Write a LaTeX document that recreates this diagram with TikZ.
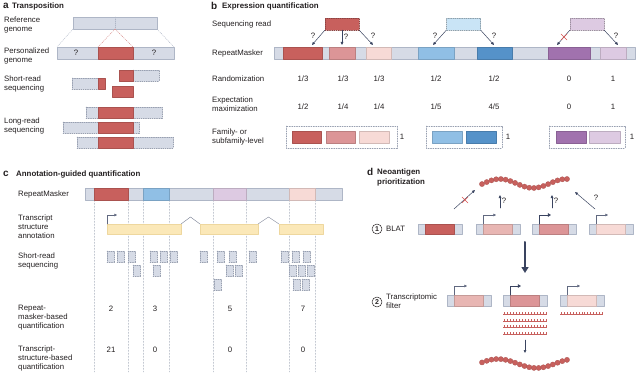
\documentclass[tikz,border=0pt]{standalone}
\usepackage{fontspec}
\setmainfont{Liberation Sans}
\usetikzlibrary{arrows.meta}
\definecolor{txtc}{HTML}{231F20}
\definecolor{gfill}{HTML}{D6DBE6}
\definecolor{gline}{HTML}{AEB6C6}
\definecolor{gdash}{HTML}{979FB0}
\definecolor{rA}{HTML}{C8605D}
\definecolor{rB}{HTML}{DC9597}
\definecolor{rC}{HTML}{F7DAD6}
\definecolor{rD}{HTML}{E8B6B3}
\definecolor{bA}{HTML}{90BFE5}
\definecolor{bB}{HTML}{5592C9}
\definecolor{bR}{HTML}{C9E4F6}
\definecolor{pA}{HTML}{A172AE}
\definecolor{pB}{HTML}{DDCAE2}
\definecolor{yel}{HTML}{FBE8B8}
\definecolor{yelL}{HTML}{EED79E}
\definecolor{arr}{HTML}{3A4460}
\definecolor{dotc}{HTML}{C3C8D1}
\definecolor{xred}{HTML}{D9534F}

\begin{document}
\begin{tikzpicture}[line cap=round,line join=round,>={Triangle[length=3pt,width=2.6pt]},x=1pt,y=-1pt,
	lbl/.style={anchor=west,align=left,inner sep=0pt,text=txtc,font=\fontsize{7.8}{9}\selectfont},
	ttl/.style={anchor=west,align=left,inner sep=0pt,text=txtc,font=\fontsize{7.9}{10}\selectfont\bfseries},
	panlet/.style={anchor=west,inner sep=0pt,text=txtc,font=\fontsize{10}{10}\selectfont\bfseries},
	num/.style={inner sep=0pt,text=txtc,font=\fontsize{7.8}{9}\selectfont},
	gbar/.style={fill=gfill,draw=gline,line width=0.4pt},
	gread/.style={fill=gfill,draw=gdash,line width=0.4pt,dash pattern=on 1.2pt off 1pt},
	seg/.style={fill=#1,draw=#1!85!black,line width=0.3pt},
	rread/.style={fill=#1,draw=#1!70!black,line width=0.4pt,dash pattern=on 1.2pt off 1pt,inner sep=0pt,minimum width=34pt,minimum height=12pt},
	fambox/.style={draw=gdash,line width=0.4pt,dash pattern=on 1.2pt off 1.2pt},
	conn/.style={->,draw=arr,line width=0.5pt},
	tss/.style={-{Triangle[length=2.6pt,width=2.6pt]},draw=arr!80,line width=0.5pt},
	tssb/.style={-{Triangle[length=3.2pt,width=3.6pt]},draw=arr,line width=1pt},
	vdot/.style={draw=dotc,line width=0.4pt,dash pattern=on 1.5pt off 1.5pt},
	exon/.style={fill=yel,draw=yelL,line width=0.4pt},
	comb/.style={draw=rA,line width=0.5pt,line cap=butt},
	bead/.style={fill=rA,draw=rA!85!black,line width=0.3pt},
	xmark/.style={draw=xred,line width=0.6pt},
	stepnum/.style={circle,draw=txtc,line width=0.5pt,inner sep=0pt,minimum size=10pt,text=txtc,font=\fontsize{7}{7}\selectfont\bfseries}]
	\useasboundingbox (0,0) rectangle (639,382);
	% a
	\node[panlet] (la) at (3,6) {a};
	\node[ttl] (ta) at (12,6) {Transposition};
	\node[lbl] (refL) at (4,24.5) {Reference\\genome};
	\node[lbl] (perL) at (4,55.5) {Personalized\\genome};
	\node[lbl] (srL) at (4,83.5) {Short-read\\sequencing};
	\node[lbl] (lrL) at (4,125.5) {Long-read\\sequencing};
	\draw[gbar] (73,17) rectangle (157,29);
	\draw[gline,line width=0.4pt,dash pattern=on 1pt off 1pt] (115,17) -- (115,29);
	\draw[gline,line width=0.4pt,dash pattern=on 1pt off 1pt] (73,29) -- (57,47);
	\draw[gline,line width=0.4pt,dash pattern=on 1pt off 1pt] (157,29) -- (174,47);
	\draw[rA!70,line width=0.4pt,dash pattern=on 1pt off 1pt] (115,29) -- (98,47);
	\draw[rA!70,line width=0.4pt,dash pattern=on 1pt off 1pt] (115,29) -- (133,47);
	\draw[gbar] (57,47) rectangle (174,59);
	\draw[seg=rA] (98,47) rectangle (133,59);
	\node[num] (qa1) at (76,53) {?};
	\node[num] (qa2) at (154,53) {?};
	\draw[gread] (133,70) rectangle (159,81);
	\draw[seg=rA] (119,70) rectangle (133,81);
	\draw[gread] (72,78) rectangle (98,89);
	\draw[seg=rA] (98,78) rectangle (105,89);
	\draw[seg=rA] (112,86) rectangle (133,97);
	\draw[gread] (86,107) rectangle (162,118);
	\draw[seg=rA] (98,107) rectangle (133,118);
	\draw[gread] (63,122) rectangle (139,133);
	\draw[seg=rA] (98,122) rectangle (133,133);
	\draw[gread] (77,137) rectangle (173,148);
	\draw[seg=rA] (98,137) rectangle (133,148);
	% b
	\node[panlet] (lb) at (211,6) {b};
	\node[ttl] (tb) at (222,6) {Expression quantification};
	\node[lbl] (sqL) at (212,24) {Sequencing read};
	\node[lbl] (rmL) at (212,53) {RepeatMasker};
	\node[lbl] (rnL) at (212,79) {Randomization};
	\node[lbl] (emL) at (212,104) {Expectation\\maximization};
	\node[lbl] (fmL) at (212,137) {Family- or\\subfamily-level};
	\node[rread=rA] (sr1) at (342,24) {};
	\node[rread=bR] (sr2) at (463.5,24) {};
	\node[rread=pB] (sr3) at (587,24) {};
	\draw[gbar] (274,47) rectangle (635,59);
	\draw[seg=rA] (283,47) rectangle (322,59);
	\draw[seg=rB] (329,47) rectangle (355,59);
	\draw[seg=rC] (366,47) rectangle (391,59);
	\draw[seg=bA] (418,47) rectangle (454,59);
	\draw[seg=bB] (477,47) rectangle (512,59);
	\draw[seg=pA] (548,47) rectangle (590,59);
	\draw[seg=pB] (600,47) rectangle (626,59);
	\coordinate (t1) at (312,45);
	\coordinate (t2) at (342,45);
	\coordinate (t3) at (373,45);
	\coordinate (t4) at (433,45);
	\coordinate (t5) at (494,45);
	\coordinate (t6) at (557,45);
	\coordinate (t7) at (618,45);
	\draw[conn] (sr1.south west) -- (t1);
	\draw[conn] (sr1.south) -- (t2);
	\draw[conn] (sr1.south east) -- (t3);
	\draw[conn] (sr2.south west) -- (t4);
	\draw[conn] (sr2.south east) -- (t5);
	\draw[conn] (sr3.south west) -- (t6);
	\draw[conn] (sr3.south east) -- (t7);
	\draw[xmark] (561,34) -- (567,40);
	\draw[xmark] (567,34) -- (561,40);
	\node[num] (qb1) at (313,36) {?};
	\node[num] (qb2) at (346,37) {?};
	\node[num] (qb3) at (373,36) {?};
	\node[num] (qb4) at (435,36) {?};
	\node[num] (qb5) at (494,36) {?};
	\node[num] (qb6) at (616,36) {?};
	\foreach \x/\r/\e [count=\n] in {303/1\slash 3/1\slash 2,343/1\slash 3/1\slash 4,379/1\slash 3/1\slash 4,436/1\slash 2/1\slash 5,494/1\slash 2/4\slash 5,569/0/0,613/1/1}{
		\node[num] (rn\n) at (\x,79) {\r};
		\node[num] (em\n) at (\x,107) {\e};
	}
	\draw[fambox] (286,126) rectangle (397,148);
	\draw[seg=rA] (292,131) rectangle (321,143);
	\draw[seg=rB] (326,131) rectangle (355,143);
	\draw[seg=rC] (359,131) rectangle (389,143);
	\node[num] (f1) at (402,137) {1};
	\draw[fambox] (426,126) rectangle (502,148);
	\draw[seg=bA] (432,131) rectangle (462,143);
	\draw[seg=bB] (466,131) rectangle (496,143);
	\node[num] (f2) at (508,137) {1};
	\draw[fambox] (549,126) rectangle (625,148);
	\draw[seg=pA] (556,131) rectangle (586,143);
	\draw[seg=pB] (589,131) rectangle (620,143);
	\node[num] (f3) at (632,137) {1};
	% c
	\node[panlet] (lc) at (3,174) {c};
	\node[ttl] (tc) at (16,174) {Annotation-guided quantification};
	\node[lbl] (rmL2) at (18,194) {RepeatMasker};
	\node[lbl] (tsL) at (18,226.5) {Transcript\\structure\\annotation};
	\node[lbl] (srL2) at (18,261) {Short-read\\sequencing};
	\node[lbl] (rqL) at (18,317.5) {Repeat-\\masker-based\\quantification};
	\node[lbl] (tqL) at (18,358.5) {Transcript-\\structure-based\\quantification};
	\foreach \x in {94,128,143,169,213,246,289,315}
		\draw[vdot] (\x,200) -- (\x,372);
	\draw[gbar] (85,188) rectangle (342,200);
	\draw[seg=rA] (94,188) rectangle (128,200);
	\draw[seg=bA] (143,188) rectangle (169,200);
	\draw[seg=pB] (213,188) rectangle (246,200);
	\draw[seg=rC] (289,188) rectangle (315,200);
	\draw[exon] (107,224) rectangle (181,234);
	\draw[exon] (200,224) rectangle (258,234);
	\draw[exon] (279,224) rectangle (323,234);
	\draw[arr!70,line width=0.4pt] (181,224) -- (190.5,217) -- (200,224);
	\draw[arr!70,line width=0.4pt] (258,224) -- (268.5,217) -- (279,224);
	\draw[tss] (107,224) -- (107,215) -- (117,215);
	\foreach \x in {107,117,128,150,160,170,200,217,229,249,281,292,303}
		\draw[gread] (\x,251) rectangle ++(7,11);
	\foreach \x in {133,153,226,235,289,298,307}
		\draw[gread] (\x,265) rectangle ++(7,11);
	\foreach \x in {214,293,302}
		\draw[gread] (\x,279) rectangle ++(7,11);
	\foreach \x/\a/\b [count=\n] in {111/2/21,155/3/0,230/5/0,303/7/0}{
		\node[num] (rq\n) at (\x,309) {\a};
		\node[num] (tq\n) at (\x,350) {\b};
	}
	% d
	\node[panlet] (ld) at (367,172) {d};
	\node[ttl] (td) at (377,177.5) {Neoantigen\\prioritization};
	\foreach \i in {0,...,18}{
		\pgfmathsetmacro{\bx}{482+85*\i/18}
		\pgfmathsetmacro{\by}{183.5-4.5*cos(360*(\i/18-0.21)/0.78)}
		\draw[bead] (\bx,\by) circle (2.6);
	}
	\node[stepnum] (s1) at (377,229) {1};
	\node[lbl] (blat) at (386,229) {BLAT};
	\foreach \x/\c in {418/rA,476/rD,532/rB,589/rC}{
		\draw[gbar] (\x,224) rectangle ++(44,10);
		\draw[seg=\c] (\x+7,224) rectangle ++(29,10);
	}
	\draw[tss] (483,224) -- (483,215) -- (496,215);
	\draw[tssb] (539,224) -- (539,215) -- (551,215);
	\draw[tss] (596,224) -- (596,215) -- (608,215);
	\coordinate (u1a) at (454,209);
	\coordinate (u1b) at (475,190);
	\coordinate (u2a) at (500,208);
	\coordinate (u2b) at (500,195);
	\coordinate (u3a) at (552,208);
	\coordinate (u3b) at (552,195);
	\coordinate (u4a) at (595,209);
	\coordinate (u4b) at (575,192);
	\draw[conn] (u1a) -- (u1b);
	\draw[conn] (u2a) -- (u2b);
	\draw[conn] (u3a) -- (u3b);
	\draw[conn] (u4a) -- (u4b);
	\draw[xmark] (462,197) -- (468,203);
	\draw[xmark] (468,197) -- (462,203);
	\node[num] (qd1) at (504,201) {?};
	\node[num] (qd2) at (556,201) {?};
	\node[num] (qd3) at (596,198) {?};
	\coordinate (bigA) at (525,242);
	\coordinate (bigB) at (525,273);
	\draw[-{Triangle[length=6pt,width=7pt]},draw=arr,line width=2pt] (bigA) -- (bigB);
	\node[stepnum] (s2) at (377,302) {2};
	\node[lbl] (tfL) at (386,301.5) {Transcriptomic\\filter};
	\foreach \x/\c in {447/rD,503/rB,560/rC}{
		\draw[gbar] (\x,295) rectangle ++(44,11);
		\draw[seg=\c] (\x+7,295) rectangle ++(29,11);
	}
	\draw[tss] (454,295) -- (454,286) -- (467,286);
	\draw[tssb] (510,295) -- (510,286) -- (521,286);
	\draw[tss] (567,295) -- (567,286) -- (580,286);
	\foreach \yy in {314,321,327.5,334}{
		\draw[comb] (503,\yy) -- (547,\yy);
		\foreach \k in {0,...,14}
			\draw[comb] (504.5+\k*2.95,\yy) -- ++(0,-2.5);
	}
	\draw[comb] (560,314) -- (603,314);
	\foreach \k in {0,...,14}
		\draw[comb] (561.5+\k*2.9,314) -- ++(0,-2.5);
	\coordinate (smA) at (525,340);
	\coordinate (smB) at (525,353);
	\draw[conn] (smA) -- (smB);
	\foreach \i in {0,...,18}{
		\pgfmathsetmacro{\bx}{482+85*\i/18}
		\pgfmathsetmacro{\by}{363.5-4.5*cos(360*(\i/18-0.19)/0.9)}
		\draw[bead] (\bx,\by) circle (2.6);
	}
\end{tikzpicture}
\end{document}
